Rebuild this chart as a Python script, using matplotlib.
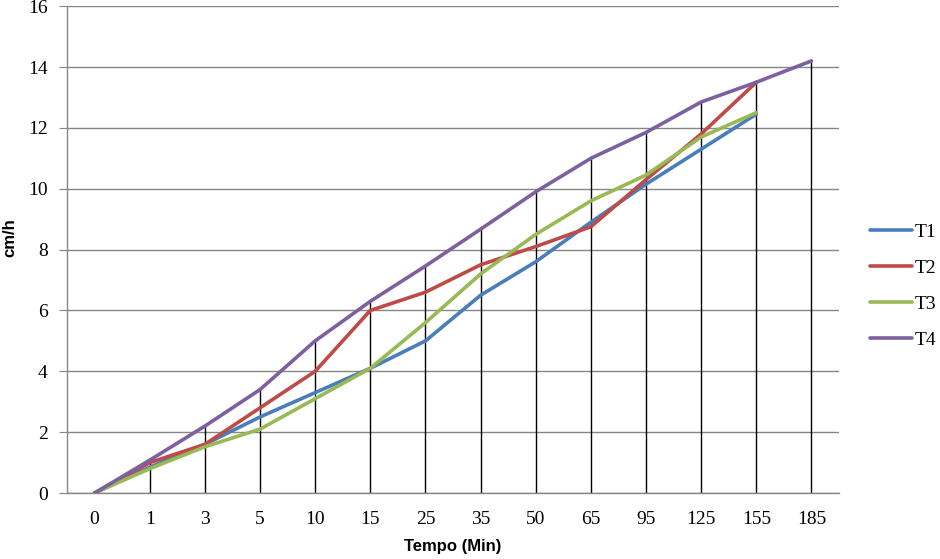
import matplotlib
matplotlib.use("Agg")
import matplotlib.pyplot as plt
import numpy as np

categories = ["0", "1", "3", "5", "10", "15", "25", "35", "50", "65", "95", "125", "155", "185"]
T1 = [0, 0.85, 1.6, 2.5, 3.3, 4.1, 5.0, 6.5, 7.6, 8.9, 10.15, 11.3, 12.45]
T2 = [0, 1.0, 1.6, 2.8, 4.0, 6.0, 6.6, 7.5, 8.1, 8.75, 10.3, 11.8, 13.5]
T3 = [0, 0.8, 1.52, 2.1, 3.1, 4.1, 5.6, 7.2, 8.5, 9.6, 10.45, 11.7, 12.5]
T4 = [0, 1.08, 2.2, 3.4, 5.0, 6.3, 7.46, 8.67, 9.9, 11.0, 11.85, 12.85, 13.5, 14.2]
series = {"T1": T1, "T2": T2, "T3": T3, "T4": T4}
colors = {"T1": "#4A7EBB", "T2": "#BE4B48", "T3": "#98B954", "T4": "#7D60A0"}

fig = plt.figure(figsize=(9.4, 5.59), dpi=100)
ax = fig.add_axes([0.0713, 0.118, 0.8213, 0.871])

# drop lines to the highest value at each category
n = len(categories)
highs = []
for i in range(n):
    vals = [s[i] for s in series.values() if i < len(s)]
    highs.append(max(vals))
ax.vlines(np.arange(n), 0, highs, colors="black", linewidth=1.0, zorder=2)

for name, vals in series.items():
    ax.plot(np.arange(len(vals)), vals, color=colors[name], linewidth=2.6,
            label=name, zorder=3, solid_capstyle="round", solid_joinstyle="round")

ax.set_xlim(-0.5, n - 0.5)
ax.set_ylim(0, 16)
ax.set_yticks(range(0, 17, 2))
ax.set_xticks(np.arange(n))
ax.set_xticklabels(categories)
ax.yaxis.grid(True, color="#868686", linewidth=1.0)
ax.set_axisbelow(True)
for side in ["top", "right"]:
    ax.spines[side].set_visible(False)
for side in ["left", "bottom"]:
    ax.spines[side].set_color("#868686")
    ax.spines[side].set_linewidth(1.0)
ax.tick_params(axis="y", length=6, color="#868686", pad=8)
ax.tick_params(axis="x", length=0, pad=13)
for lab in ax.get_xticklabels() + ax.get_yticklabels():
    lab.set_fontfamily(["Liberation Serif", "DejaVu Serif"])
    lab.set_fontsize(14)

lab_font = ["Liberation Sans Narrow", "Liberation Sans", "DejaVu Sans"]
ax.set_xlabel("Tempo (Min)", fontsize=12, fontweight="bold", family=lab_font, labelpad=8)
fig.text(10 / 940, 1 - 238 / 559, "cm/h", rotation=90, fontsize=12, fontweight="bold",
         family=lab_font, ha="center", va="center")

leg = ax.legend(loc="center left", bbox_to_anchor=(1.04, 0.425), frameon=False,
                prop={"family": ["Liberation Serif", "DejaVu Serif"], "size": 14},
                handlelength=2.15, handletextpad=0.15, labelspacing=0.95,
                borderpad=0, borderaxespad=0)

fig.savefig("out.png", dpi=100)
